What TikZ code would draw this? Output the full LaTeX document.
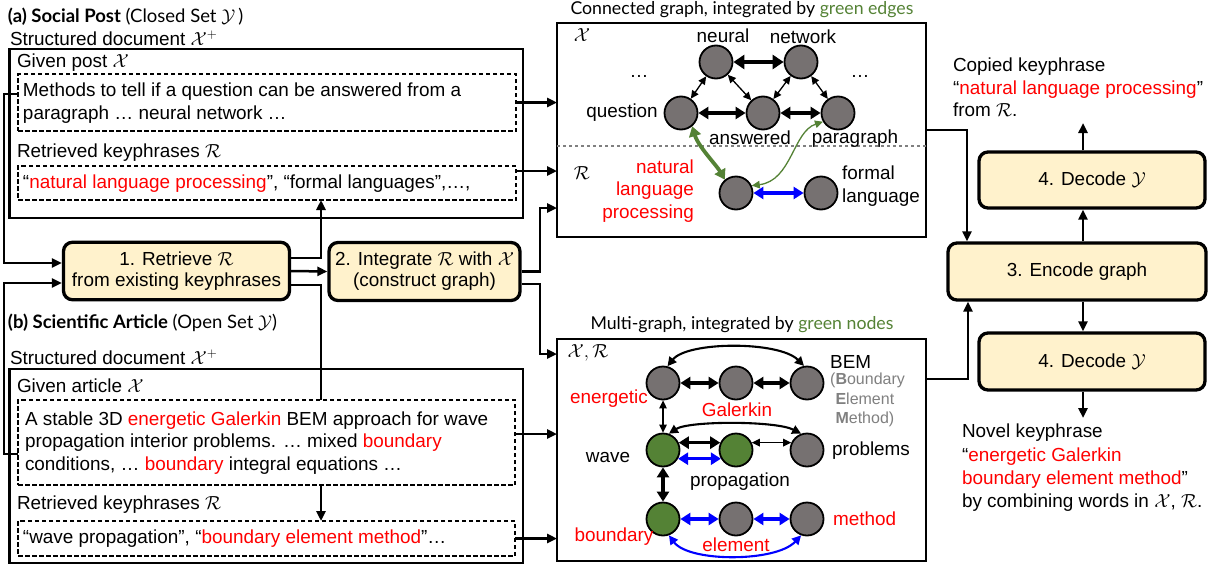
\RequirePackage{fix-cm}
\documentclass[tikz,border=0pt]{standalone}
\usepackage{fontspec}
\setmainfont{Liberation Sans}
\newfontfamily\gill{Lato}
\usetikzlibrary{arrows.meta,calc}
\definecolor{procyellow}{HTML}{FFF2CC}
\definecolor{vgray}{HTML}{767171}
\definecolor{vgreen}{HTML}{548235}
\definecolor{kred}{HTML}{FF0000}
\definecolor{kblue}{HTML}{0000FF}
\definecolor{bemgray}{HTML}{808080}
\newcommand{\rd}[1]{\textcolor{kred}{#1}}
\begin{document}
\begin{tikzpicture}[x=1pt,y=-1pt,
  font=\fontsize{18.9}{22.8}\selectfont,
  obox/.style={draw, line width=2.7pt, inner sep=0, outer sep=0},
  dbox/.style={draw, line width=1.5pt, dash pattern=on 4.5pt off 2.5pt, inner sep=0, outer sep=0},
  proc/.style={draw, line width=3.3pt, rounded corners=9pt, fill=procyellow, align=center, inner sep=0,
     font=\fontsize{18.9}{21}\selectfont},
  txt/.style={inner sep=0, outer sep=0, anchor=west, align=left},
  ttl/.style={inner sep=0, outer sep=0, font=\gill\fontsize{17.7}{21}\selectfont},
  conn/.style={line width=2.5pt, -{Triangle[length=10pt,width=9pt]}},
  plain/.style={line width=2.5pt},
  vtx/.style={circle, draw, line width=1.8pt, fill=vgray, minimum size=33pt, inner sep=0},
  gvtx/.style={vtx, fill=vgreen},
  thickarr/.style={line width=4.3pt, {Triangle[length=11pt,width=14pt]}-{Triangle[length=11pt,width=14pt]}},
  medarr/.style={line width=3.3pt, {Triangle[length=10pt,width=12pt]}-{Triangle[length=10pt,width=12pt]}},
  arcarr/.style={line width=2.1pt, {Triangle[length=9pt,width=9pt]}-{Triangle[length=9pt,width=9pt]}},
  thinarr/.style={line width=1.3pt, {Triangle[length=8pt,width=7.5pt]}-{Triangle[length=8pt,width=7.5pt]}},
]
\useasboundingbox (0,0) rectangle (1215,565);

% ---------- (a) social post ----------
\node[txt] (ha) at (8,17) {\gill\fontsize{18.5}{22}\selectfont\textbf{(a) Social Post} (Closed Set $\mathcal{Y}$\,)};
\node[txt] (sa) at (10,38) {Structured document $\mathcal{X}^+$};
\node[obox, minimum width=513.5pt, minimum height=169pt] (oa) at (266.2,133.5) {};
\node[txt] (gpa) at (17,63) {Given post $\mathcal{X}$};
\node[dbox, minimum width=498pt, minimum height=57pt] (d1) at (267,102.5) {};
\node[txt] (t1) at (23,103.5) {Methods to tell if a question can be answered from a\\paragraph … neural network …};
\node[txt] (rka) at (17,153) {Retrieved keyphrases $\mathcal{R}$};
\node[dbox, minimum width=498pt, minimum height=34pt] (d2) at (267,183) {};
\node[txt] (t2) at (23,184) {“\rd{natural language processing}”, “formal languages”,…,};

% ---------- (b) scientific article ----------
\node[txt] (hb) at (8,323) {\gill\fontsize{18.5}{22}\selectfont\textbf{(b) Scientific Article} (Open Set $\mathcal{Y}$)};
\node[txt] (sb) at (10,357) {Structured document $\mathcal{X}^+$};
\node[obox, minimum width=513.5pt, minimum height=194pt] (ob) at (266.2,466) {};
\node[txt] (gab) at (17,386) {Given article $\mathcal{X}$};
\node[dbox, minimum width=497pt, minimum height=85pt] (d3) at (266.5,442.5) {};
\node[txt] (t3) at (25,443) {A stable 3D \rd{energetic Galerkin} BEM approach for wave\\propagation interior problems. … mixed \rd{boundary}\\conditions, … \rd{boundary} integral equations …};
\node[txt] (rkb) at (17,505) {Retrieved keyphrases $\mathcal{R}$};
\node[dbox, minimum width=497pt, minimum height=35pt] (d4) at (266.5,538.5) {};
\node[txt] (t4) at (23,539) {“wave propagation”, “\rd{boundary element method}”…};

% ---------- process nodes ----------
\node[proc, minimum width=226pt, minimum height=57.5pt] (ret) at (176.5,271) {1. Retrieve $\mathcal{R}$\\from existing keyphrases};
\node[proc, minimum width=191pt, minimum height=58pt] (int) at (424.5,271.5) {2. Integrate $\mathcal{R}$ with $\mathcal{X}$\\(construct graph)};
\node[proc, minimum width=258pt, minimum height=57pt] (enc) at (1077,271.5) {3. Encode graph};
\node[proc, minimum width=226pt, minimum height=56pt] (dec1) at (1092,180) {4. Decode $\mathcal{Y}$};
\node[proc, minimum width=226pt, minimum height=57pt] (dec2) at (1092,361.5) {4. Decode $\mathcal{Y}$};

% ---------- graph boxes ----------
\node[ttl] (tga) at (742,10) {Connected graph, integrated by \textcolor{vgreen}{green edges}};
\node[obox, minimum width=369pt, minimum height=214pt] (ga) at (741.5,130) {};
\node[ttl] (tgb) at (742,325) {Multi-graph, integrated by \textcolor{vgreen}{green nodes}};
\node[obox, minimum width=369pt, minimum height=222pt] (gb) at (741.5,450) {};

% ---------- connectors ----------
\draw[conn] ([yshift=8.5pt]d1.west) -- ++(-14,0) |- ([yshift=8pt]ret.west);
\draw[conn] ([yshift=-11.5pt]d3.west) -- ++(-14,0) |- ([yshift=-12pt]ret.west);
\draw[conn] ([yshift=13pt]ret.east) -| ([xshift=54pt]d2.south);
\draw[conn] (ret.east) -- (int.west);
\draw[plain] ([yshift=-14pt]ret.east) -| ([xshift=54.5pt]d3.north);
\draw[conn] ([xshift=54.5pt]d3.south) -- ([xshift=54.5pt]d4.north);
\draw[conn] (d1.east) -- (d1.east -| ga.west);
\draw[conn] ([yshift=12pt]d2.east) -- ([yshift=12pt]d2.east -| ga.west);
\draw[conn] (int.east) -- ++(18.5,0) |- ([yshift=-78pt]ga.west);
\draw[conn] ([yshift=-12.5pt]int.east) -- ++(18.5,0) |- ([yshift=96pt]gb.west);
\draw[conn] ([yshift=8.5pt]d3.east) -- ([yshift=8.5pt]d3.east -| gb.west);
\draw[conn] (d4.east) -- (d4.east -| gb.west);
\draw[conn] (ga.east) -| ([xshift=-110pt]enc.north);
\draw[conn] ([yshift=71pt]gb.east) -| ([xshift=-109pt]enc.south);
\draw[conn] ([xshift=6pt]enc.north) -- ([xshift=-9pt]dec1.south);
\coordinate (cout) at (1083,123);
\draw[conn] ([xshift=-9pt]dec1.north) -- (cout);
\draw[conn] ([xshift=6pt]enc.south) -- ([xshift=-9pt]dec2.north);
\coordinate (nout) at (1083,418);
\draw[conn] ([xshift=-9pt]dec2.south) -- (nout);

% ---------- right texts ----------
\node[txt, font=\fontsize{18.9}{22.5}\selectfont] (copied) at (953,87.5) {Copied keyphrase\\“\rd{natural language processing}”\\from $\mathcal{R}$.};
\node[txt, font=\fontsize{18.9}{23.3}\selectfont] (novel) at (962,468) {Novel keyphrase\\“\rd{energetic Galerkin}\\\rd{boundary element method}”\\by combining words in $\mathcal{X}$, $\mathcal{R}$.};

% ---------- graph (a) ----------
\draw[dashed, bemgray, line width=1.4pt] ([yshift=-16pt]ga.west) -- ([yshift=-16pt]ga.east);
\node[inner sep=0] (lx) at (582,35) {$\mathcal{X}$};
\node[inner sep=0] (lr) at (582,173) {$\mathcal{R}$};
\node[vtx] (neural) at (716,62) {};
\node[vtx] (network) at (801,62) {};
\node[vtx] (question) at (681,113) {};
\node[vtx] (answered) at (763,113) {};
\node[vtx] (paragraph) at (838,113) {};
\node[vtx] (nlp) at (736,193) {};
\node[vtx] (formal) at (821,193) {};
\node[inner sep=0] at (723,36) {neural};
\node[inner sep=0] at (803,37) {network};
\node[inner sep=0] at (622,113) {question};
\node[inner sep=0] at (750,138) {answered};
\node[inner sep=0] at (855,139) {paragraph};
\node[inner sep=0] at (639,76) {…};
\node[inner sep=0] at (860,76) {…};
\node[inner sep=0, anchor=east, align=right, text=kred] at (694,191) {natural\\language\\processing};
\node[inner sep=0, anchor=west, align=left] at (842,186.5) {formal\\language};
\draw[thickarr] (neural) -- (network);
\draw[thinarr] (neural) -- (question);
\draw[thinarr] (neural) -- (answered);
\draw[thinarr] (network) -- (answered);
\draw[thinarr] (network) -- (paragraph);
\draw[medarr] (question) -- (answered);
\draw[medarr] (answered) -- (paragraph);
\draw[medarr, vgreen, line width=3.8pt] (question.-50) .. controls +(6,20) and +(-8,-14) .. (nlp.130);
\draw[thinarr, vgreen] (paragraph.-150) .. controls +(-30,10) and +(40,-5) .. (nlp.25);
\draw[medarr, kblue, line width=3.8pt] (nlp) -- (formal);

% ---------- graph (b) ----------
\node[inner sep=0] (lxr) at (588,353) {$\mathcal{X},\mathcal{R}$};
\node[vtx] (b11) at (663,383) {};
\node[vtx] (b12) at (736,383) {};
\node[vtx] (b13) at (807,383) {};
\node[gvtx] (b21) at (663,450) {};
\node[gvtx] (b22) at (736,450) {};
\node[vtx] (b23) at (807,450) {};
\node[gvtx] (b31) at (663,519) {};
\node[vtx] (b32) at (736,519) {};
\node[vtx] (b33) at (807,519) {};
\node[inner sep=0, anchor=west] at (830,362) {BEM};
\node[inner sep=0, anchor=north west, align=left, text=bemgray, font=\fontsize{16}{19.5}\selectfont] at (830,373) {(\textbf{B}oundary\\\phantom{(}\textbf{E}lement\\\phantom{(}\textbf{M}ethod)};
\node[inner sep=0, anchor=east, text=kred] at (648,399) {energetic};
\node[inner sep=0, text=kred] at (737,410) {Galerkin};
\node[inner sep=0] at (608,457) {wave};
\node[inner sep=0, anchor=west] at (832,451) {problems};
\node[inner sep=0] at (740,482) {propagation};
\node[inner sep=0, text=kred] at (614,537) {boundary};
\node[inner sep=0, text=kred] at (736,545) {element};
\node[inner sep=0, anchor=west, text=kred] at (833,519) {method};
\draw[medarr] (b11) -- (b12);
\draw[medarr] (b12) -- (b13);
\draw[arcarr] (b11.75) .. controls +(20,-25) and +(-25,-25) .. (b13.100);
\draw[thinarr] (b11) -- (b21);
\draw[medarr] (b21.25) -- (b22.155);
\draw[thinarr] (b22.25) -- (b23.155);
\draw[arcarr] (b21.70) .. controls +(20,-13) and +(-25,-13) .. (b23.110);
\draw[medarr, kblue] (b21.-30) -- (b22.-150);
\draw[medarr] (b21) -- (b31);
\draw[medarr, kblue] (b31) -- (b32);
\draw[medarr, kblue] (b32) -- (b33);
\draw[arcarr, kblue] (b31.-70) .. controls +(20,27) and +(-25,27) .. (b33.-110);
\end{tikzpicture}
\end{document}
